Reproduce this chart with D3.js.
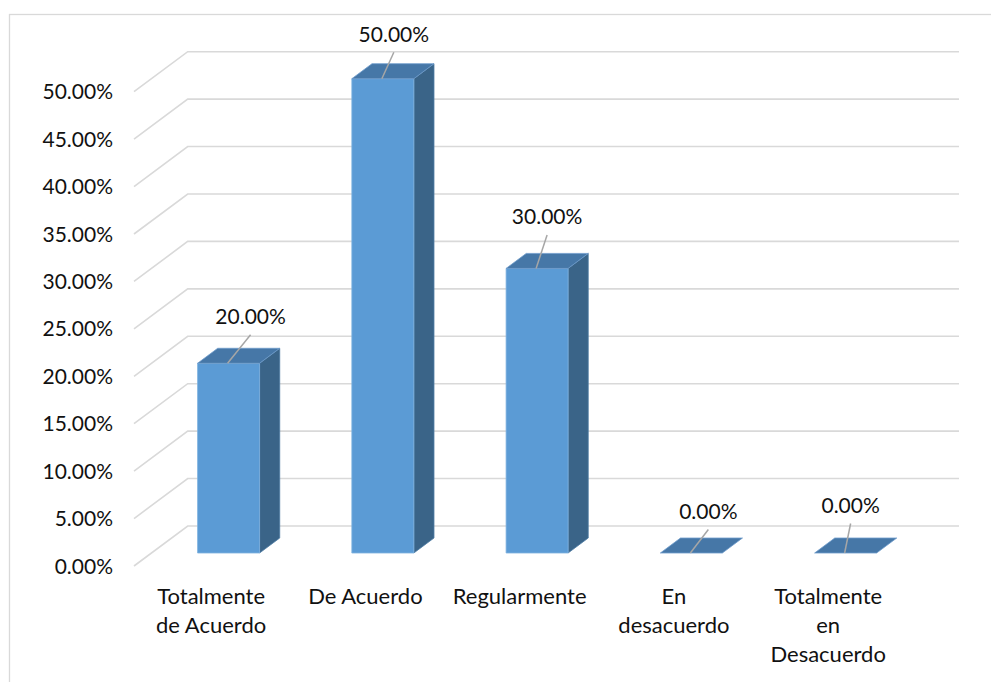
<!DOCTYPE html>
<html>
<head>
<meta charset="utf-8">
<script src="https://cdn.jsdelivr.net/npm/d3@7"></script>
<style>
  html, body { margin: 0; padding: 0; background: #fff; }
  svg { display: block; }
  text { font-family: Lato, "Open Sans", sans-serif; fill: #111; }
</style>
</head>
<body>
<svg id="chart" width="991" height="682"></svg>
<script>
// Survey response categories (line breaks are where the axis label wraps)
const categories = [
  "Totalmente\nde Acuerdo",
  "De Acuerdo",
  "Regularmente",
  "En\ndesacuerdo",
  "Totalmente\nen\nDesacuerdo"
];
// Share of responses per category
const values = [0.20, 0.50, 0.30, 0.00, 0.00];
// Value-axis ticks
const yTicks = [0, 0.05, 0.10, 0.15, 0.20, 0.25, 0.30, 0.35, 0.40, 0.45, 0.50];

const svg = d3.select("#chart");
const fmt = d3.format(".2%");

// Oblique 3D projection: depth z in [0,1] moves a point right and up
const depthX = 53.7, depthY = 40;
const plotLeft = 134, plotRight = 905.3;
const floorFront = 566, topFront = 91.7;

const x = d3.scaleBand().domain(categories).range([plotLeft, plotRight]).padding(0);
const y = d3.scaleLinear().domain([0, 0.5]).range([floorFront, topFront]);
const proj = (px, v, z) => [px + z * depthX, y(v) - z * depthY];

// Outer chart frame
svg.append("rect")
  .attr("x", 9.5).attr("y", 14.5)
  .attr("width", 1100).attr("height", 800)
  .attr("fill", "none").attr("stroke", "#D9D9D9").attr("stroke-width", 1.3);

// Gridlines: diagonal on the side wall, horizontal on the back wall
const grid = svg.append("g").attr("stroke", "#D9D9D9").attr("stroke-width", 1.6).attr("fill", "none");
yTicks.forEach(t => {
  const a = proj(plotLeft, t, 0), b = proj(plotLeft, t, 1), c = proj(plotRight, t, 1);
  grid.append("polyline").attr("points", [a, b, c].map(p => p.join(",")).join(" "));
});

// Value-axis tick labels
svg.append("g").selectAll("text").data(yTicks).join("text")
  .attr("x", 113)
  .attr("y", d => y(d))
  .attr("dy", "0.36em")
  .attr("text-anchor", "end")
  .attr("font-size", 21)
  .text(d => fmt(d));

// Bars as 3D boxes
const zFront = 0.325, zBack = 0.7;
const barW = x.bandwidth() * 0.402;
const colors = { front: "#5B9BD5", side: "#3A6488", top: "#4677A7" };
const bars = svg.append("g");
const pts = arr => arr.map(p => p.join(",")).join(" ");

categories.forEach((c, i) => {
  const v = values[i];
  const x0 = x(c) + x.bandwidth() / 2 - barW / 2;
  const x1 = x0 + barW;
  const fbl = proj(x0, 0, zFront), fbr = proj(x1, 0, zFront);
  const ftl = proj(x0, v, zFront), ftr = proj(x1, v, zFront);
  const bbr = proj(x1, 0, zBack), btr = proj(x1, v, zBack), btl = proj(x0, v, zBack);
  const g = bars.append("g").attr("stroke-width", 0.8).attr("stroke-linejoin", "round");
  if (v > 0) {
    g.append("polygon").attr("points", pts([fbr, bbr, btr, ftr]))
      .attr("fill", colors.side).attr("stroke", "#4C7BA3");
    g.append("polygon").attr("points", pts([fbl, fbr, ftr, ftl]))
      .attr("fill", colors.front).attr("stroke", "#7FB2E0");
  }
  g.append("polygon").attr("points", pts([ftl, ftr, btr, btl]))
    .attr("fill", colors.top).attr("stroke", "#6E9CCB");
});

// Data labels with leader lines to the top edge of each bar
const labelDx = [22, 11, 10, 17, 5];
const labelDy = [-39, -37, -44, -34, -40];
const labels = svg.append("g");
categories.forEach((c, i) => {
  const v = values[i];
  const cx = x(c) + x.bandwidth() / 2 + zFront * depthX;
  const topY = y(v) - zFront * depthY;
  const lx = cx + labelDx[i];
  const ly = topY + labelDy[i];
  labels.append("line")
    .attr("x1", lx).attr("y1", ly + 10.5)
    .attr("x2", cx - 1).attr("y2", topY)
    .attr("stroke", "#A6A6A6").attr("stroke-width", 1.5);
  labels.append("text")
    .attr("x", lx).attr("y", ly)
    .attr("text-anchor", "middle")
    .attr("font-size", 21)
    .text(fmt(v));
});

// Category labels under the floor
const cat = svg.append("g");
categories.forEach(c => {
  const t = cat.append("text")
    .attr("x", x(c) + x.bandwidth() / 2)
    .attr("y", 604)
    .attr("text-anchor", "middle")
    .attr("font-size", 22);
  c.split("\n").forEach((line, k) => {
    t.append("tspan").attr("x", x(c) + x.bandwidth() / 2).attr("dy", k === 0 ? 0 : 29).text(line);
  });
});
</script>
</body>
</html>
